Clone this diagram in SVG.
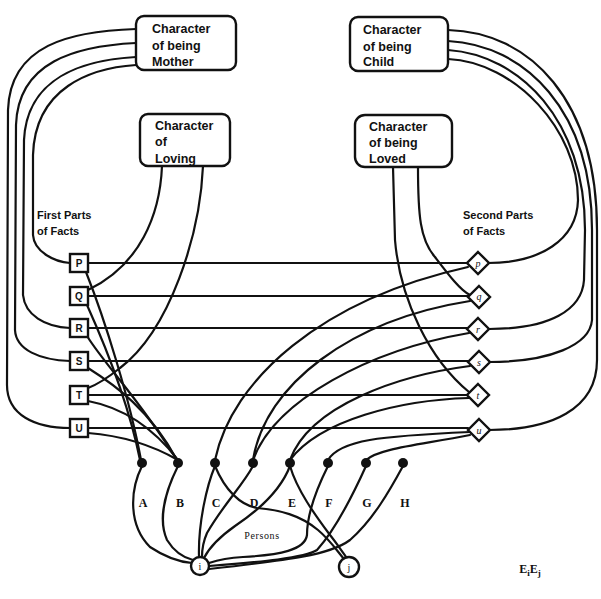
<svg xmlns="http://www.w3.org/2000/svg" width="601" height="599" viewBox="0 0 601 599">
<style>
.bx{fill:#fff;stroke:#111;stroke-width:2.4}
.ln{fill:none;stroke:#111;stroke-width:2.2;stroke-linecap:round}
.t{font-family:"Liberation Sans",Arial,sans-serif;font-weight:bold;font-size:12.5px;fill:#111}
.s{font-family:"Liberation Sans",Arial,sans-serif;font-weight:bold;font-size:11px;fill:#111}
.f{font-family:"Liberation Sans",Arial,sans-serif;font-weight:bold;font-size:10px;fill:#111;text-anchor:middle}
.g{font-family:"Liberation Serif","Times New Roman",serif;font-size:10px;fill:#111;text-anchor:middle}
.p{font-family:"Liberation Serif","Times New Roman",serif;font-weight:bold;font-size:12px;fill:#111;text-anchor:middle}
.d{fill:#111}
</style>
<rect width="601" height="599" fill="#fff"/>
<g id="connectors">
<path class="ln" d="M136,29 C70,31 10,45 8,110 L7,385 C7,415 35,428 70,428"/>
<path class="ln" d="M136,43 C75,46 18,62 16,125 L15,330 C16,350 40,360 70,361"/>
<path class="ln" d="M136,57 C82,60 27,78 24,140 L23,295 C25,315 45,327 70,328"/>
<path class="ln" d="M136,65 C90,68 35,88 33,155 L33,235 C34,252 55,262 70,263"/>
<path class="ln" d="M448,30 C530,32 597,100 597,230 L597,360 C597,410 550,430 489,430"/>
<path class="ln" d="M448,41 C525,45 592,110 592,230 L592,320 C590,345 550,362 489,362"/>
<path class="ln" d="M448,50 C520,55 585,120 585,230 L584,280 C582,310 550,329 489,329"/>
<path class="ln" d="M448,59 C515,62 578,130 578,200 C577,240 540,263 488,263"/>
<path class="ln" d="M162,166 C160,215 140,265 88,290"/>
<path class="ln" d="M203,166 C200,235 170,330 120,368 C105,380 96,385 88,388"/>
<path class="ln" d="M393,167 L395,240 C400,300 430,360 469,392"/>
<path class="ln" d="M418,167 C418,215 420,240 435,257 C448,274 460,290 470,295"/>
<path class="ln" d="M88,263 H467 M88,296 H468 M88,328 H467 M88,361 H468 M88,395 H467 M88,428 H468"/>
<path class="ln" d="M86,272 C105,320 130,400 141,460"/>
<path class="ln" d="M87,305 C105,345 128,400 140,460"/>
<path class="ln" d="M87,336 C105,365 140,400 177,460"/>
<path class="ln" d="M88,368 C115,385 150,410 177,460"/>
<path class="ln" d="M88,401 C125,408 155,430 178,460"/>
<path class="ln" d="M88,433 C127,436 157,448 178,460"/>
<path class="ln" d="M215,460 C232,380 320,300 468,267"/>
<path class="ln" d="M253,460 C265,385 350,320 470,301"/>
<path class="ln" d="M253,460 C275,400 370,350 469,333"/>
<path class="ln" d="M290,460 C310,405 400,375 470,366"/>
<path class="ln" d="M290,460 C320,420 400,400 469,398"/>
<path class="ln" d="M328,460 C340,440 380,436 470,432"/>
<path class="ln" d="M366,460 C380,448 420,445 470,435"/>
<path class="ln" d="M142,466 C130,490 128,525 150,547 C165,557 180,562 192,563"/>
<path class="ln" d="M178,466 C165,492 158,520 167,540 C175,553 185,558 193,560"/>
<path class="ln" d="M215,466 C207,485 198,523 199,557"/>
<path class="ln" d="M253,466 C243,485 223,505 207,533 C203,542 202,550 202,557"/>
<path class="ln" d="M290,466 C282,487 262,508 235,526 C218,538 208,550 204,558"/>
<path class="ln" d="M215,466 C225,490 240,505 257,508 C280,510 300,515 318,530 C330,540 338,552 344,559"/>
<path class="ln" d="M290,466 C297,490 315,515 330,535 C338,545 343,553 347,558"/>
<path class="ln" d="M328,466 C316,490 307,515 307,535 C305,550 280,555 243,557 C225,558 215,561 209,563"/>
<path class="ln" d="M366,466 C352,497 335,530 317,550 C305,558 260,562 209,566"/>
<path class="ln" d="M403,466 C390,490 373,520 350,540 C330,555 290,560 209,569"/>
</g>
<g id="mother"><rect class="bx" x="136" y="16" width="100" height="54" rx="8"/><text class="t" x="152" y="33">Character</text><text class="t" x="152" y="50">of being</text><text class="t" x="152" y="66">Mother</text></g>
<g id="loving"><rect class="bx" x="140" y="114" width="90" height="52" rx="8"/><text class="t" x="155" y="130">Character</text><text class="t" x="155" y="146">of</text><text class="t" x="155" y="163">Loving</text></g>
<g id="child"><rect class="bx" x="350" y="17" width="98" height="54" rx="8"/><text class="t" x="363" y="34">Character</text><text class="t" x="363" y="51">of being</text><text class="t" x="363" y="66">Child</text></g>
<g id="loved"><rect class="bx" x="355" y="115" width="97" height="52" rx="10"/><text class="t" x="369" y="131">Character</text><text class="t" x="369" y="147">of being</text><text class="t" x="369" y="163">Loved</text></g>
<g id="first-label"><text class="s" x="37" y="219">First Parts</text><text class="s" x="37" y="235">of Facts</text></g>
<g id="second-label"><text class="s" x="463" y="219">Second Parts</text><text class="s" x="463" y="235">of Facts</text></g>
<g id="fp-P"><rect class="bx" x="70" y="254" width="18" height="18"/><text class="f" x="79" y="267">P</text></g>
<g id="fp-Q"><rect class="bx" x="70" y="287" width="18" height="18"/><text class="f" x="79" y="300">Q</text></g>
<g id="fp-R"><rect class="bx" x="70" y="319" width="18" height="18"/><text class="f" x="79" y="332">R</text></g>
<g id="fp-S"><rect class="bx" x="70" y="352" width="18" height="18"/><text class="f" x="79" y="365">S</text></g>
<g id="fp-T"><rect class="bx" x="70" y="386" width="18" height="18"/><text class="f" x="79" y="399">T</text></g>
<g id="fp-U"><rect class="bx" x="70" y="419" width="18" height="18"/><text class="f" x="79" y="432">U</text></g>
<g id="sp-p"><path class="bx" d="M478,252 L489,263 L478,274 L467,263 Z"/><text class="g" x="478" y="267" font-style="italic">p</text></g>
<g id="sp-q"><path class="bx" d="M479,286 L490,297 L479,308 L468,297 Z"/><text class="g" x="479" y="300" font-style="italic">q</text></g>
<g id="sp-r"><path class="bx" d="M478,318 L489,329 L478,340 L467,329 Z"/><text class="g" x="478" y="333" font-style="italic">r</text></g>
<g id="sp-s"><path class="bx" d="M479,351 L490,362 L479,373 L468,362 Z"/><text class="g" x="479" y="366" font-style="italic">s</text></g>
<g id="sp-t"><path class="bx" d="M478,384 L489,395 L478,406 L467,395 Z"/><text class="g" x="478" y="399" font-style="italic">t</text></g>
<g id="sp-u"><path class="bx" d="M479,419 L490,430 L479,441 L468,430 Z"/><text class="g" x="479" y="434" font-style="italic">u</text></g>
<g id="person-A"><circle class="d" cx="142" cy="463" r="5"/><text class="p" x="143" y="507">A</text></g>
<g id="person-B"><circle class="d" cx="178" cy="463" r="5"/><text class="p" x="180" y="507">B</text></g>
<g id="person-C"><circle class="d" cx="215" cy="463" r="5"/><text class="p" x="216" y="507">C</text></g>
<g id="person-D"><circle class="d" cx="253" cy="463" r="5"/><text class="p" x="254" y="507">D</text></g>
<g id="person-E"><circle class="d" cx="290" cy="463" r="5"/><text class="p" x="292" y="507">E</text></g>
<g id="person-F"><circle class="d" cx="328" cy="463" r="5"/><text class="p" x="329" y="507">F</text></g>
<g id="person-G"><circle class="d" cx="366" cy="463" r="5"/><text class="p" x="367" y="507">G</text></g>
<g id="person-H"><circle class="d" cx="403" cy="463" r="5"/><text class="p" x="405" y="507">H</text></g>
<g id="persons-label"><text class="g" x="262" y="539" font-size="11" letter-spacing="0.6">Persons</text></g>
<g id="circle-i"><circle class="bx" cx="200" cy="566" r="9"/><text class="g" x="200" y="570">i</text></g>
<g id="circle-j"><circle class="bx" cx="349" cy="567" r="10"/><text class="g" x="349" y="571">j</text></g>
<g id="label-E"><text class="p" x="530" y="573" font-size="13">E<tspan font-size="9" dy="3">i</tspan><tspan dy="-3">E</tspan><tspan font-size="9" dy="3">j</tspan></text></g>
</svg>
